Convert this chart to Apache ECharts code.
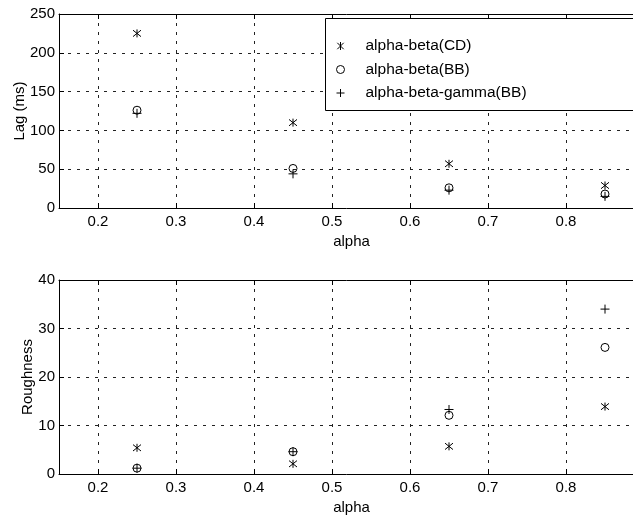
<!DOCTYPE html>
<html>
<head>
<meta charset="utf-8">
<script src="https://cdn.jsdelivr.net/npm/echarts@6/dist/echarts.min.js"></script>
<style>html,body{margin:0;padding:0;background:#fff;}#c{width:633px;height:518px;}</style>
</head>
<body>
<div id="c"></div>
<script>
const alphaValues = [0.25, 0.45, 0.65, 0.85];
const xTicks = [0.2, 0.3, 0.4, 0.5, 0.6, 0.7, 0.8];
const seriesNames = ['alpha-beta(CD)', 'alpha-beta(BB)', 'alpha-beta-gamma(BB)'];
const lagCD = [225, 110, 57, 29];
const lagBB = [126, 51, 26, 18];
const lagABG = [122, 44, 23, 15];
const roughCD = [5.4, 2.1, 5.7, 13.9];
const roughBB = [1.2, 4.6, 12.1, 26.1];
const roughABG = [1.2, 4.6, 13.3, 34.0];

const FONT = 'Liberation Sans';
const FS = 15;
const starPath = 'path://M0,-1L0,1M-0.8,-0.8L0.8,0.8M-0.8,0.8L0.8,-0.8';
const plusPath = 'path://M0,-1L0,1M-1,0L1,0';
const symbols = [starPath, 'circle', plusPath];
const sizes = [8, 8, 9];

function pairs(ys) { return alphaValues.map((x, i) => [x, ys[i]]); }

const gridLine = { show: true, lineStyle: { color: '#222', type: [3, 6], width: 1 } };
function xAxisBottom(gi) {
  return {
    type: 'value', gridIndex: gi, position: 'bottom', min: 0.15, max: 0.9,
    name: 'alpha', nameLocation: 'middle', nameGap: 26, nameMoveOverlap: false,
    nameTextStyle: { fontFamily: FONT, fontSize: FS, color: '#000' },
    axisLine: { show: true, onZero: false, lineStyle: { color: '#000', width: 1 } },
    axisTick: { show: true, inside: true, length: 5, customValues: xTicks, lineStyle: { color: '#000' } },
    axisLabel: { customValues: xTicks, margin: 6, fontFamily: FONT, fontSize: FS, color: '#000',
      formatter: v => v.toFixed(1) },
    splitLine: gridLine
  };
}
function xAxisTop(gi) {
  return {
    type: 'value', gridIndex: gi, position: 'top', min: 0.15, max: 0.9,
    axisLine: { show: true, onZero: false, lineStyle: { color: '#000', width: 1 } },
    axisTick: { show: true, inside: true, length: 5, customValues: xTicks, lineStyle: { color: '#000' } },
    axisLabel: { show: false }, splitLine: { show: false }
  };
}
function yAxis(gi, max, interval, name, gap) {
  return {
    type: 'value', gridIndex: gi, min: 0, max: max, interval: interval,
    name: name, nameLocation: 'middle', nameGap: gap, nameMoveOverlap: false,
    nameTextStyle: { fontFamily: FONT, fontSize: FS, color: '#000' },
    axisLine: { show: true, lineStyle: { color: '#000', width: 1 } },
    axisTick: { show: true, inside: true, length: 5, lineStyle: { color: '#000' } },
    axisLabel: { margin: 4, fontFamily: FONT, fontSize: FS, color: '#000' },
    splitLine: gridLine
  };
}

function mkSeries(i, data, xi, yi) {
  return {
    type: 'scatter', name: seriesNames[i], xAxisIndex: xi, yAxisIndex: yi,
    symbol: symbols[i], symbolSize: sizes[i], data: data,
    itemStyle: { color: 'rgba(0,0,0,0)', borderColor: '#000', borderWidth: 1, opacity: 1 },
    emphasis: { disabled: true }, z: 10
  };
}

const chart = echarts.init(document.getElementById('c'), null, { renderer: 'canvas' });
chart.setOption({
  animation: false,
  backgroundColor: '#fff',
  grid: [
    { left: 59, top: 14, width: 585, height: 194, containLabel: false, outerBoundsMode: 'none' },
    { left: 59, top: 280, width: 585, height: 194, containLabel: false, outerBoundsMode: 'none' }
  ],
  xAxis: [xAxisBottom(0), xAxisTop(0), xAxisBottom(1), xAxisTop(1)],
  yAxis: [yAxis(0, 250, 50, 'Lag (ms)', 32), yAxis(1, 40, 10, 'Roughness', 24)],
  graphic: [{
    type: 'rect', left: 325, top: 18, z: 100,
    shape: { width: 330, height: 92 },
    style: { fill: '#fff', stroke: '#000', lineWidth: 1 }
  }],
  legend: {
    orient: 'vertical', left: 331, top: 33, z: 200,
    itemWidth: 8, itemHeight: 8, itemGap: 7.5,
    data: seriesNames,
    itemStyle: { color: 'rgba(0,0,0,0)', borderColor: '#000', borderWidth: 1 },
    textStyle: { fontFamily: FONT, fontSize: 15.5, color: '#000', padding: [0, 0, 0, 16] },
    selectedMode: false
  },
  series: [
    mkSeries(0, pairs(lagCD), 0, 0),
    mkSeries(1, pairs(lagBB), 0, 0),
    mkSeries(2, pairs(lagABG), 0, 0),
    mkSeries(0, pairs(roughCD), 2, 1),
    mkSeries(1, pairs(roughBB), 2, 1),
    mkSeries(2, pairs(roughABG), 2, 1)
  ]
});
</script>
</body>
</html>
